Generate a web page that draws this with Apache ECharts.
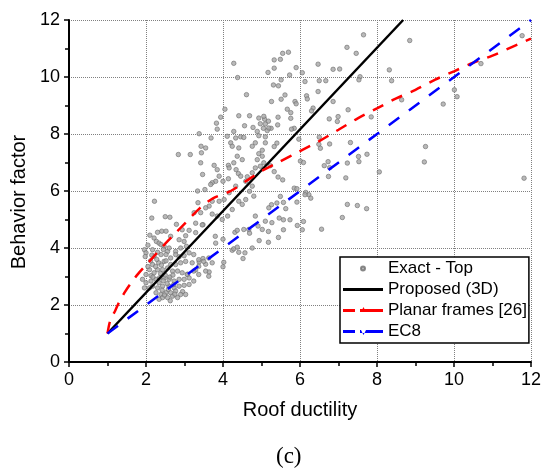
<!DOCTYPE html>
<html><head><meta charset="utf-8">
<script src="https://cdn.jsdelivr.net/npm/echarts@6/dist/echarts.min.js"></script>
<style>html,body{margin:0;padding:0;background:#fff}#c{width:544px;height:474px}</style>
</head><body><div id="c"></div>
<script>
const xTickLabels = [0, 2, 4, 6, 8, 10, 12];
const yTickLabels = [0, 2, 4, 6, 8, 10, 12];
const seriesNames = ['Exact - Top', 'Proposed (3D)', 'Planar frames [26]', 'EC8'];

const exactTop = [
[7.65,11.48],[7.22,11.04],[7.46,10.83],[8.85,11.28],[5.70,10.87],[5.55,10.83],[5.33,10.60],[5.49,10.62],[5.33,10.31],[6.47,10.45],
[5.90,10.33],[6.06,10.15],[6.86,10.27],[7.03,10.28],[8.32,10.25],[7.56,10.01],[7.53,9.90],[5.73,10.07],[5.51,9.90],[5.44,9.69],
[5.31,9.72],[6.13,9.84],[6.50,9.87],[6.67,9.87],[8.38,9.87],[5.61,9.37],[5.51,9.22],[6.17,9.34],[6.19,9.23],[6.47,9.49],
[5.87,9.14],[5.90,9.06],[6.34,8.91],[6.30,8.81],[6.86,9.14],[5.67,8.87],[5.76,8.75],[5.26,9.14],[7.25,8.85],[5.43,8.59],
[5.76,8.55],[6.76,8.53],[6.99,8.61],[6.97,8.44],[8.64,9.20],[7.85,8.60],[9.72,9.05],[10.01,9.55],[10.08,9.31],[5.25,8.20],
[5.42,8.32],[5.97,7.82],[5.85,8.20],[5.78,8.17],[5.40,7.68],[5.33,7.56],[6.50,7.89],[6.49,7.64],[6.53,7.50],[6.77,7.65],
[7.31,7.70],[9.26,7.56],[9.23,7.02],[7.52,7.21],[7.74,7.29],[7.53,7.03],[7.23,6.98],[6.63,6.89],[6.73,7.03],[6.77,6.82],
[6.74,6.51],[6.01,7.05],[6.09,7.00],[5.33,6.68],[5.43,6.49],[5.55,6.39],[8.06,6.67],[7.19,6.46],[11.82,6.45],[5.85,6.10],
[5.92,6.08],[6.15,5.95],[6.23,5.87],[6.28,5.75],[6.13,5.87],[5.49,5.81],[5.40,5.58],[5.57,5.60],[5.63,5.38],[5.92,5.61],
[5.26,5.52],[5.46,5.05],[5.57,4.99],[5.74,4.99],[5.27,4.89],[6.09,4.93],[5.93,4.79],[6.06,4.64],[6.56,4.66],[5.57,4.64],
[7.23,5.53],[7.49,5.49],[7.73,5.38],[7.10,5.07],[5.44,4.37],[10.70,10.47],[11.77,11.45],
[5.08,8.52],[5.18,8.45],[5.10,8.35],[5.05,8.20],[5.15,8.12],
[4.28,10.48],[4.38,9.98],[4.61,9.38],[5.17,10.16],[4.05,8.87],[4.41,8.64],[3.94,8.59],[3.83,8.38],[3.85,8.17],[4.69,8.64],
[4.56,8.29],[4.93,8.56],[5.06,8.62],[4.97,8.36],[4.78,8.23],[5.19,8.21],[4.89,8.09],[4.93,7.94],[5.10,7.90],[4.11,7.92],
[4.28,8.09],[4.33,7.86],[4.20,7.69],[4.24,7.57],[4.46,7.90],[4.54,7.88],[4.76,7.57],[4.84,7.69],[5.10,7.69],[5.02,7.43],
[4.93,7.31],[5.02,7.22],[4.89,7.10],[5.06,6.99],[4.97,6.87],[5.23,6.89],[4.41,7.51],[4.28,6.99],[4.14,6.90],[4.16,6.81],
[4.34,6.75],[4.37,7.22],[4.50,7.10],[3.38,8.01],[3.69,7.86],[3.55,7.51],[3.43,7.57],[3.44,7.34],[2.84,7.28],[3.15,7.28],
[3.42,6.99],[3.47,6.58],[3.77,6.90],[3.85,6.75],[3.90,6.52],[3.81,6.34],[3.72,6.29],[3.68,6.23],[3.53,6.05],[3.34,6.00],
[3.35,5.59],[4.00,6.34],[4.14,6.43],[4.40,6.61],[4.46,6.52],[4.63,6.50],[4.76,6.64],[4.84,6.81],[4.59,6.34],[4.76,6.17],
[4.59,5.70],[4.69,5.99],[4.80,5.82],[4.33,6.17],[4.16,5.94],[4.03,5.70],[3.90,5.64],[3.72,5.64],[3.64,5.47],[3.55,5.41],
[3.42,5.24],[3.25,5.24],[3.72,5.19],[3.85,5.12],[3.98,5.00],[4.24,5.35],[4.41,5.64],[4.50,5.53],[4.54,4.65],[4.67,4.65],
[4.91,4.77],[5.02,4.65],[4.84,5.12],[5.10,4.94],[5.19,5.41],[2.22,5.64],[2.50,5.10],[2.62,5.08],[2.79,4.83],[2.41,4.59],
[2.52,4.59],[3.12,4.62],[3.48,4.82],[4.12,5.12],[3.29,4.54],
[4.00,4.31],[4.02,3.50],[4.00,3.34],[4.24,3.92],[4.28,3.97],[4.37,4.03],[4.41,3.85],[4.57,3.83],[4.52,3.63],[4.76,4.00],
[4.31,4.55],[4.37,4.62],[4.69,4.52],[5.18,4.58],[4.94,4.26],[5.18,4.20],
[3.38,3.51],[3.48,3.63],[3.55,3.43],[3.29,3.23],[3.64,3.16],[3.08,3.08],[3.81,4.17],[2.95,2.47],
[2.94,4.64],[3.29,4.87],[3.46,4.81],[3.80,4.41],[2.64,4.41],[3.03,4.43],[2.86,4.29],[2.99,4.23],[2.21,4.35],[2.27,4.23],
[2.34,4.17],[2.39,4.12],[2.47,4.06],[2.56,3.88],[2.60,4.00],[2.77,3.88],[2.90,4.00],[3.05,4.06],[1.96,3.94],[2.17,3.94],
[2.00,3.83],[2.21,3.71],[2.39,3.77],[2.52,3.77],[2.64,3.65],[2.77,3.77],[2.86,3.69],[2.99,3.73],[3.12,3.83],[3.24,3.77],
[3.37,3.59],[3.50,3.53],[3.63,3.65],[3.72,3.48],[3.37,3.36],[3.20,3.48],[3.03,3.53],[2.90,3.48],[2.77,3.42],[2.64,3.42],
[2.47,3.53],[2.33,3.48],[2.17,3.42],[2.09,3.24],[2.00,3.07],[2.13,3.03],[2.21,3.13],[2.30,3.24],[2.43,3.24],[2.56,3.30],
[2.69,3.19],[2.82,3.19],[2.94,3.13],[3.07,3.07],[3.24,3.19],[3.37,3.07],[3.55,3.19],[3.63,3.01],[1.91,2.90],[2.00,2.78],
[2.13,2.84],[2.26,2.90],[2.34,2.78],[2.47,2.95],[2.60,2.90],[2.73,2.84],[2.86,2.90],[2.99,2.90],[3.12,2.95],[3.24,2.84],
[2.17,2.66],[2.30,2.60],[2.43,2.66],[2.60,2.66],[2.73,2.60],[2.86,2.66],[2.99,2.69],[3.12,2.72],[2.09,2.60],[1.96,2.60],
[2.26,2.43],[2.39,2.37],[2.52,2.43],[2.64,2.43],[2.77,2.49],[2.90,2.37],[3.03,2.37],[2.43,2.26],[2.56,2.26],[2.69,2.31],
[2.82,2.26],[2.34,2.20],[2.25,3.35],[2.38,3.10],[2.50,3.05],[2.62,2.98],[2.45,2.85],[2.55,2.75],[2.35,2.95],[2.70,3.05],
[2.40,3.40],[2.52,3.55],[2.28,3.60],[2.12,3.55],[2.05,3.35],[2.18,2.98],[2.42,2.52],[2.58,2.55],[2.72,2.72],[2.48,2.35],
[2.63,2.15],[2.75,2.38],[2.15,3.75],[2.30,3.85],[2.45,3.95],[2.05,4.10],[2.10,4.45],[2.30,4.55],[2.15,5.05],[1.98,3.70]
];

const proposedX = [1, 8.68];
const proposedY = [1, 12];
const planarX = [1.0, 1.05, 1.1, 1.2, 1.3, 1.45, 1.6, 1.8, 2.0, 2.2, 2.5, 2.75, 3.0, 3.4, 3.75, 4.2, 4.6, 5.0, 5.5, 6.0, 6.5, 7.0, 7.5, 8.0, 8.5, 9.0, 9.5, 10.0, 10.5, 11.0, 11.5, 12.0];
const planarY = [1.0, 1.35, 1.55, 1.8, 2.1, 2.45, 2.75, 3.1, 3.4, 3.7, 4.15, 4.5, 4.85, 5.4, 5.75, 6.0, 6.35, 6.7, 7.05, 7.4, 7.75, 8.15, 8.55, 8.9, 9.25, 9.55, 9.9, 10.2, 10.5, 10.75, 11.05, 11.35];
const ec8X = [1, 12];
const ec8Y = [1, 12];

const zip = (a, b) => a.map((v, i) => [v, b[i]]);
const font = 'Liberation Sans, Arial, sans-serif';

function axis(name, nameGap, namePad) {
  return {
    type: 'value', min: 0, max: 12, interval: 2,
    name: name, nameLocation: 'middle', nameGap: nameGap,
    nameTextStyle: { fontSize: 20, color: '#000', fontFamily: font, padding: namePad },
    axisLine: { show: true, onZero: false, lineStyle: { color: '#000', width: 2 } },
    axisTick: { show: true, inside: false, length: 5, lineStyle: { color: '#000', width: 1.5 } },
    minorTick: { show: true, splitNumber: 2, length: 4, lineStyle: { color: '#000', width: 1.5 } },
    axisLabel: { fontSize: 18, color: '#000', fontFamily: font, margin: 9 },
    splitLine: { show: true, lineStyle: { color: '#808080', type: 'dotted', width: 1 } },
    minorSplitLine: { show: false }
  };
}

const box = 'M0,0M40,14';
const chart = echarts.init(document.getElementById('c'), null, { renderer: 'canvas' });
chart.setOption({
  animation: false,
  backgroundColor: '#fff',
  grid: { left: 69, right: 9, top: 20, bottom: 112, containLabel: false },
  xAxis: axis('Roof ductility', 38, 0),
  yAxis: axis('Behavior factor', 40, [0, 22, 0, 0]),
  legend: {
    orient: 'vertical', left: 340, top: 257,
    itemWidth: 40, itemHeight: 14, itemGap: 4,
    padding: [3, 2, 3, 2],
    backgroundColor: '#fff', borderColor: '#000', borderWidth: 1.5, borderRadius: 0,
    textStyle: { fontSize: 17, color: '#000', fontFamily: font, lineHeight: 17 },
    data: [
      { name: seriesNames[0], icon: 'path://' + box + 'M18,7a2,2 0 1,0 4,0a2,2 0 1,0 -4,0z' },
      { name: seriesNames[1], icon: 'path://' + box + 'M0,5.6h40v2.8h-40z' },
      { name: seriesNames[2], icon: 'path://' + box + 'M0,5.6h12v2.8h-12zM17,5.6h23v2.8h-23zM18,8.4l2.5,-5l2.5,5z' },
      { name: seriesNames[3], icon: 'path://' + box + 'M0,5.6h12v2.8h-12zM17,5.6h23v2.8h-23zM18,5.6l2.5,5l2.5,-5z' }
    ]
  },
  graphic: [{
    type: 'text', left: 276, top: 445,
    style: { text: '(c)', fontSize: 23, fontFamily: 'Liberation Serif, Times New Roman, serif', fill: '#000' }
  }],
  series: [
    {
      name: seriesNames[0], type: 'scatter', data: exactTop,
      symbol: 'circle', symbolSize: 4.5,
      itemStyle: { color: '#a8a8a8', borderColor: '#6e6e6e', borderWidth: 0.8 },
      z: 2
    },
    {
      name: seriesNames[1], type: 'line', data: zip(proposedX, proposedY),
      symbol: 'none', itemStyle: { color: '#000' },
      lineStyle: { color: '#000', width: 2.5, type: 'solid' }, z: 3
    },
    {
      name: seriesNames[2], type: 'line', data: zip(planarX, planarY), smooth: 0.3,
      symbol: 'none', itemStyle: { color: '#ff0000' },
      lineStyle: { color: '#ff0000', width: 2.5, type: [12, 9] }, z: 4
    },
    {
      name: seriesNames[3], type: 'line', data: zip(ec8X, ec8Y),
      symbol: 'none', itemStyle: { color: '#0000ff' },
      lineStyle: { color: '#0000ff', width: 2.5, type: [13, 12] }, z: 4
    }
  ]
});
</script>
</body></html>
